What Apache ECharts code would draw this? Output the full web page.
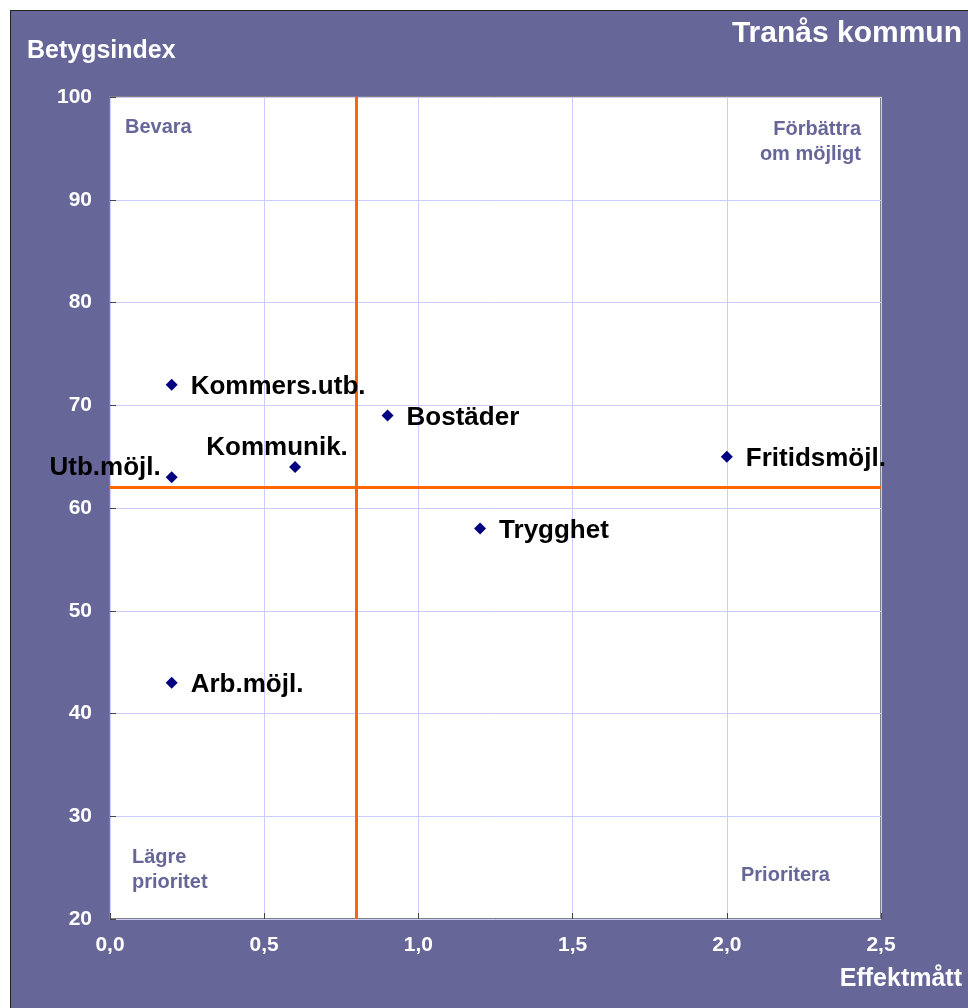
<!DOCTYPE html>
<html>
<head>
<meta charset="utf-8">
<script src="https://cdn.jsdelivr.net/npm/echarts@6/dist/echarts.min.js"></script>
<style>
html, body { margin: 0; padding: 0; background: #fff; }
#bg {
    position: absolute; left: 10px; top: 10px; right: 0; bottom: 0;
    background: #666699; border-top: 1px solid #222; border-left: 1px solid #222;
}
#main { position: absolute; left: 0; top: 0; width: 968px; height: 1008px; }
</style>
</head>
<body>
<div id="bg"></div>
<div id="main"></div>
<script>
// data
var names = ['Kommers.utb.', 'Bostäder', 'Kommunik.', 'Utb.möjl.', 'Fritidsmöjl.', 'Trygghet', 'Arb.möjl.'];
var effekt = [0.2, 0.9, 0.6, 0.2, 2.0, 1.2, 0.2];
var betyg = [72, 69, 64, 63, 65, 58, 43];
var xLimit = 0.8;   // vertical orange line
var yLimit = 62;    // horizontal orange line

// label placement per point (not data)
var labelPlace = {
    'Kommunik.': { position: 'top', offset: [-18, 5], distance: 5 },
    'Utb.möjl.': { position: 'left', offset: [0, -9], distance: 5 }
};

var myChart = echarts.init(document.getElementById('main'));

var points = names.map(function (n, i) {
    var p = labelPlace[n] || { position: 'right', distance: 13, offset: [0, 2] };
    return {
        name: n,
        value: [effekt[i], betyg[i]],
        label: { show: true, formatter: n, position: p.position, distance: p.distance, offset: p.offset }
    };
});

var white = '#ffffff';
var quad = '#666699';
var ff = '"Liberation Sans", Arial';

var option = {
    backgroundColor: 'transparent',
    animation: false,
    grid: {
        left: 110, top: 97, width: 771, height: 822,
        show: true, backgroundColor: '#fff', borderColor: '#808080', borderWidth: 2
    },
    xAxis: {
        type: 'value', min: 0, max: 2.5, interval: 0.5,
        axisLine: { show: false },
        axisTick: { show: true, inside: true, length: 6, lineStyle: { color: '#444' } },
        splitLine: { show: true, lineStyle: { color: '#ccccff', width: 1 } },
        axisLabel: {
            color: white, fontWeight: 'bold', fontSize: 21, fontFamily: ff,
            margin: 16,
            formatter: function (v) { return v.toFixed(1).replace('.', ','); }
        }
    },
    yAxis: {
        type: 'value', min: 20, max: 100, interval: 10,
        axisLine: { show: false },
        axisTick: { show: true, inside: true, length: 6, lineStyle: { color: '#444' } },
        splitLine: { show: true, lineStyle: { color: '#ccccff', width: 1 } },
        axisLabel: {
            color: white, fontWeight: 'bold', fontSize: 21, fontFamily: ff,
            margin: 18
        }
    },
    series: [{
        type: 'scatter',
        symbol: 'diamond',
        symbolSize: 12,
        itemStyle: { color: '#000080', opacity: 1 },
        label: {
            color: '#000', fontWeight: 'bold', fontSize: 26, fontFamily: ff
        },
        data: points,
        markLine: {
            silent: true,
            symbol: 'none',
            label: { show: false },
            lineStyle: { color: '#ff6600', width: 3, type: 'solid' },
            data: [{ xAxis: xLimit }, { yAxis: yLimit }]
        },
        z: 5
    }],
    graphic: [
        { type: 'text', right: 6, top: 19, style: { text: 'Tranås kommun', fill: white, font: 'bold 30px ' + ff } },
        { type: 'text', left: 27, top: 39, style: { text: 'Betygsindex', fill: white, font: 'bold 25px ' + ff } },
        { type: 'text', right: 6, top: 967, style: { text: 'Effektmått', fill: white, font: 'bold 25px ' + ff } },
        { type: 'text', left: 125, top: 117, z: 10, style: { text: 'Bevara', fill: quad, font: 'bold 20px ' + ff } },
        { type: 'text', right: 107, top: 119, z: 10, style: { text: 'Förbättra', fill: quad, font: 'bold 20px ' + ff } },
        { type: 'text', right: 107, top: 144, z: 10, style: { text: 'om möjligt', fill: quad, font: 'bold 20px ' + ff } },
        { type: 'text', left: 132, top: 845, z: 10, style: { text: 'Lägre\nprioritet', fill: quad, font: 'bold 20px ' + ff, lineHeight: 25 } },
        { type: 'text', left: 741, top: 865, z: 10, style: { text: 'Prioritera', fill: quad, font: 'bold 20px ' + ff } }
    ]
};

myChart.setOption(option);
</script>
</body>
</html>
